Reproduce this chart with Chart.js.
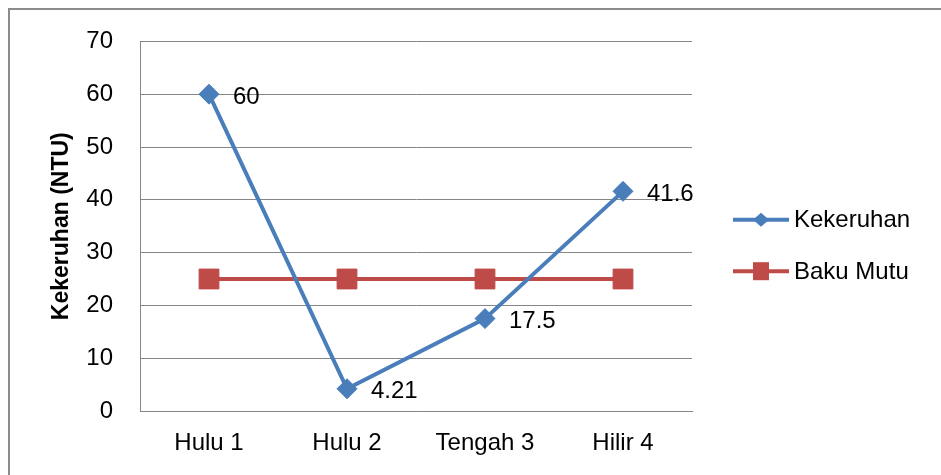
<!DOCTYPE html>
<html><head><meta charset="utf-8">
<script src="https://cdn.jsdelivr.net/npm/chart.js@4/dist/chart.umd.min.js"></script>
<style>html,body{margin:0;padding:0;background:#fff;overflow:hidden}#wrap{width:941px;height:475px;position:relative}</style>
</head><body><div id="wrap"><canvas id="c" width="941" height="475"></canvas></div>
<script>
const categories = ['Hulu 1', 'Hulu 2', 'Tengah 3', 'Hilir 4'];
const kekeruhan = [60, 4.21, 17.5, 41.6];
const bakuMutu = [25, 25, 25, 25];
const kekeruhanLabels = ['60', '4.21', '17.5', '41.6'];
const yMin = 0, yMax = 70, yStep = 10;
const seriesNames = ['Kekeruhan', 'Baku Mutu'];
const yTitle = 'Kekeruhan (NTU)';

const FONT = "'Liberation Sans', Arial, sans-serif";
const FS = 24;
const BLUE = '#4a7ebb';
const RED = '#be4b48';
const GRID = '#868686';

const borderPlugin = {
  id: 'outerBorder',
  beforeDraw(chart) {
    const ctx = chart.ctx;
    ctx.save();
    ctx.strokeStyle = '#8c8c8c';
    ctx.lineWidth = 2;
    ctx.beginPath();
    ctx.moveTo(9, chart.height);
    ctx.lineTo(9, 9);
    ctx.lineTo(chart.width, 9);
    ctx.stroke();
    ctx.restore();
  }
};

const labelPlugin = {
  id: 'pointLabels',
  afterDatasetsDraw(chart) {
    const ctx = chart.ctx;
    const meta = chart.getDatasetMeta(0);
    ctx.save();
    ctx.fillStyle = '#000';
    ctx.font = FS + 'px ' + FONT;
    ctx.textAlign = 'left';
    ctx.textBaseline = 'middle';
    meta.data.forEach((el, i) => {
      ctx.fillText(kekeruhanLabels[i], el.x + 24, el.y + 3);
    });
    ctx.restore();
  }
};

const legendPlugin = {
  id: 'customLegend',
  afterDraw(chart) {
    const ctx = chart.ctx;
    const area = chart.chartArea;
    const mid = (area.top + area.bottom) / 2;
    const rows = [mid - 6.5, mid + 45];
    ctx.save();
    chart.data.datasets.forEach((ds, i) => {
      const y = rows[i];
      const x0 = area.right + 41, x1 = area.right + 97, cx = (x0 + x1) / 2;
      ctx.strokeStyle = ds.borderColor;
      ctx.lineWidth = 4;
      ctx.beginPath();
      ctx.moveTo(x0, y);
      ctx.lineTo(x1, y);
      ctx.stroke();
      ctx.fillStyle = ds.borderColor;
      ctx.beginPath();
      if (ds.pointStyle === 'rectRot') {
        ctx.moveTo(cx - 8, y);
        ctx.lineTo(cx, y - 7);
        ctx.lineTo(cx + 8, y);
        ctx.lineTo(cx, y + 7);
        ctx.closePath();
      } else {
        ctx.rect(cx - 8, y - 9, 16, 18);
      }
      ctx.fill();
      ctx.fillStyle = '#000';
      ctx.font = FS + 'px ' + FONT;
      ctx.textAlign = 'left';
      ctx.textBaseline = 'middle';
      ctx.fillText(ds.label, x1 + 5, y + 1);
    });
    ctx.restore();
  }
};

new Chart(document.getElementById('c'), {
  type: 'line',
  data: {
    labels: categories,
    datasets: [
      {
        label: seriesNames[0],
        data: kekeruhan,
        borderColor: BLUE,
        backgroundColor: BLUE,
        borderWidth: 4,
        pointStyle: 'rectRot',
        pointRadius: 10,
        pointHoverRadius: 10,
        pointBorderWidth: 1,
        tension: 0
      },
      {
        label: seriesNames[1],
        data: bakuMutu,
        borderColor: RED,
        backgroundColor: RED,
        borderWidth: 4,
        pointStyle: 'rect',
        pointRadius: 14,
        pointHoverRadius: 14,
        pointBorderWidth: 1,
        tension: 0
      }
    ]
  },
  options: {
    responsive: false,
    animation: false,
    devicePixelRatio: 1,
    layout: { padding: { left: 0, top: 38, right: 249, bottom: 0 } },
    plugins: {
      legend: { display: false },
      tooltip: { enabled: false },
      title: { display: false }
    },
    scales: {
      x: {
        offset: true,
        grid: { display: false, drawTicks: false },
        border: { display: true, color: GRID, width: 1 },
        ticks: { color: '#000', font: { family: FONT, size: FS }, padding: 18, maxRotation: 0 },
        afterFit(s) { s.height = 64; }
      },
      y: {
        min: yMin,
        max: yMax,
        ticks: { stepSize: yStep, color: '#000', font: { family: FONT, size: FS }, padding: 27 },
        grid: { color: GRID, lineWidth: 1, drawTicks: false },
        border: { display: true, color: GRID, width: 1 },
        title: { display: true, text: yTitle, color: '#000', font: { family: FONT, size: 23, weight: 'bold' }, padding: { top: 48, bottom: 0 } },
        afterFit(s) { s.width = 140; }
      }
    }
  },
  plugins: [borderPlugin, labelPlugin, legendPlugin]
});
</script>
</body></html>
